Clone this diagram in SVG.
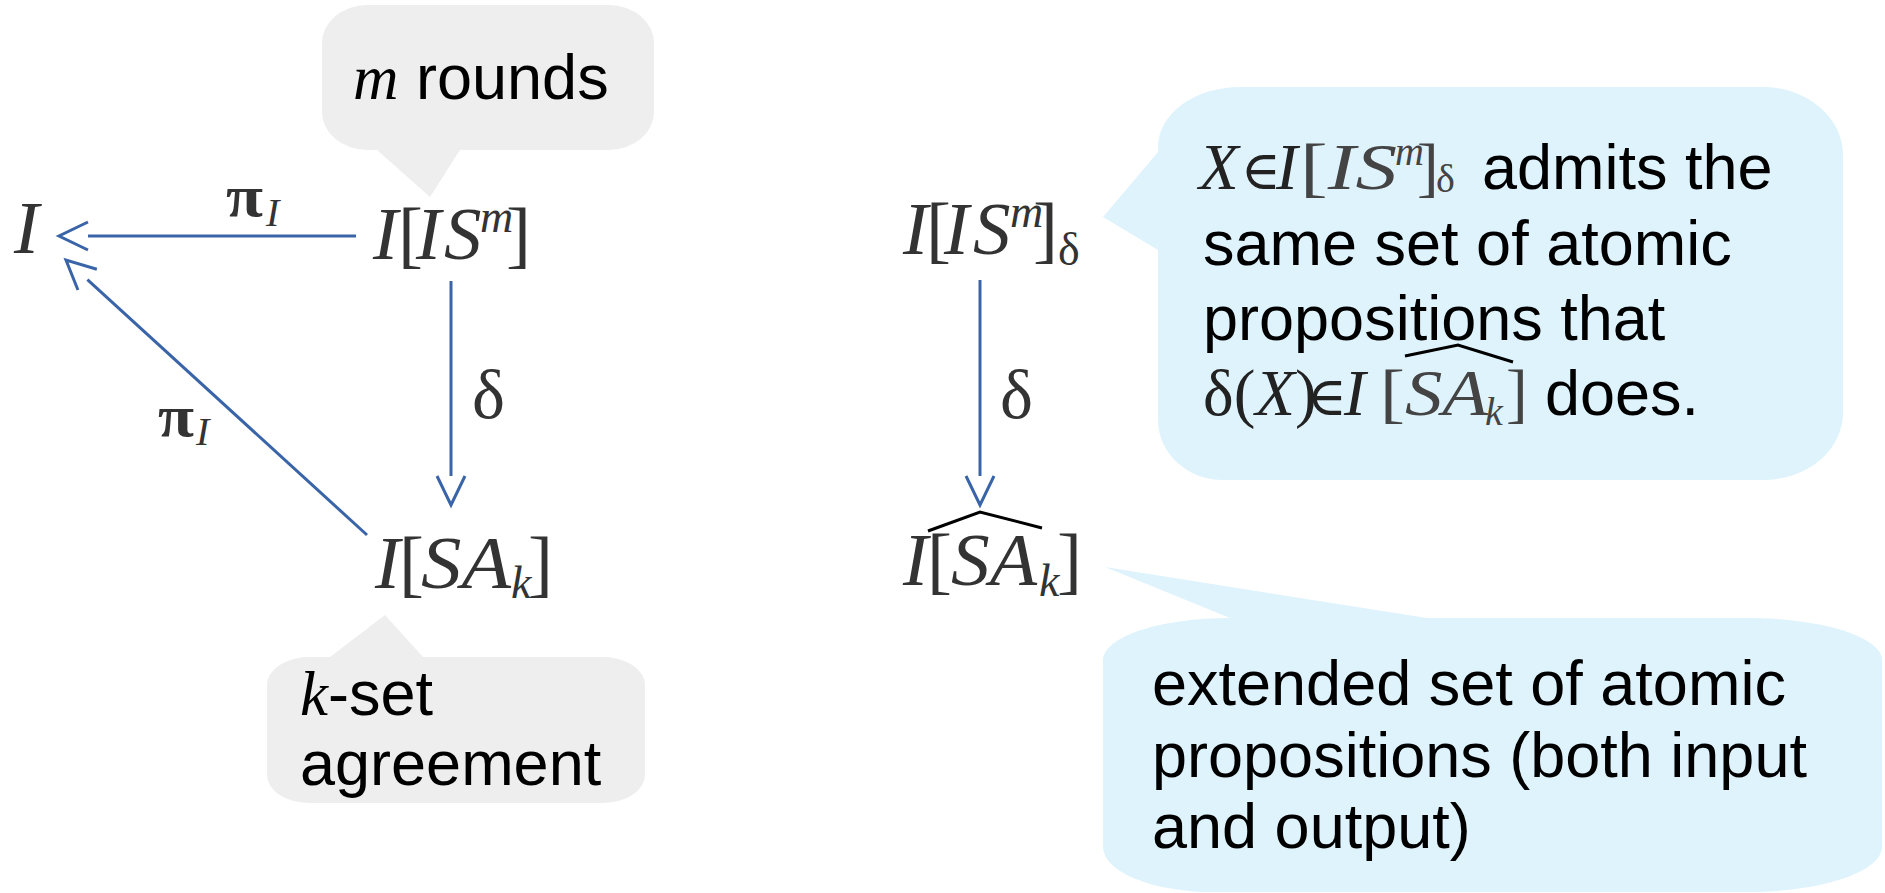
<svg xmlns="http://www.w3.org/2000/svg" width="1885" height="893" viewBox="0 0 1885 893">
<defs>
<style>
.sans{font-family:"Liberation Sans",Arial,sans-serif;font-size:63px;fill:#000}
.math{font-family:"Liberation Serif","DejaVu Serif",serif;fill:#333}
.elem{font-family:"DejaVu Serif",serif;font-style:normal;font-weight:normal}
.it{font-style:italic}
.node{font-size:75px}
.lbl{font-size:70px}
.pi{font-size:60px;font-weight:bold}
.sub{font-size:40px;font-style:italic}
.conn{stroke:#3A64A8;stroke-width:3;fill:none}
.hat{stroke:#000;stroke-width:3;fill:none}
.gray{fill:#EEEEEE}
.blue{fill:#DFF3FC}
</style>
<marker id="open" markerUnits="userSpaceOnUse" markerWidth="1" markerHeight="1" overflow="visible" orient="auto" refX="0" refY="0">
<path d="M0,-14 L29,0 L0,14" fill="none" stroke="#3A64A8" stroke-width="3"/>
</marker>
</defs>
<rect width="1885" height="893" fill="#fff"/>

<g id="callout-rounds">
<path class="gray" d="M367,5 H609 A45,38 0 0 1 654,43 V112 A45,38 0 0 1 609,150 H460 L430,197 L377,150 H367 A45,38 0 0 1 322,112 V43 A45,38 0 0 1 367,5 Z"/>
<text class="sans" x="353" y="99"><tspan class="math it" style="fill:#000">m</tspan> rounds</text>
</g>

<g id="callout-kset">
<path class="gray" d="M309,657 H330 L385,615 L423,657 H603 A42,28 0 0 1 645,685 V775 A42,28 0 0 1 603,803 H309 A42,28 0 0 1 267,775 V685 A42,28 0 0 1 309,657 Z"/>
<text class="sans" x="300" y="715"><tspan class="math it" style="fill:#000">k</tspan>-set</text>
<text class="sans" x="300" y="785">agreement</text>
</g>

<g id="callout-admits">
<path class="blue" d="M1240,87 H1763 A80,68 0 0 1 1843,155 V413 A80,67 0 0 1 1763,480 H1223 A65,60 0 0 1 1158,420 V250 L1103,217 L1158,152 V147 A82,60 0 0 1 1240,87 Z"/>
<g class="math" style="font-size:65px;fill:#222">
<text class="it" x="1199" y="189">X</text>
<text class="elem" x="1241" y="189" style="font-size:54px">∈</text>
<text class="it" x="1276" y="189">I</text>
<text x="1300" y="189" textLength="97" lengthAdjust="spacingAndGlyphs" style="fill:#444">[<tspan class="it">IS</tspan></text>
<text class="it" x="1395" y="165" style="font-size:40px;fill:#444">m</text>
<text x="1417" y="189" style="fill:#444">]</text>
<text x="1436" y="192" style="font-size:40px;fill:#444">δ</text>
</g>
<text class="sans" x="1482" y="189">admits the</text>
<text class="sans" x="1203" y="265">same set of atomic</text>
<text class="sans" x="1203" y="340">propositions that</text>
<g class="math" style="font-size:65px;fill:#222">
<text x="1203" y="415">δ(<tspan class="it">X</tspan>)</text>
<text class="elem" x="1307" y="415" style="font-size:54px">∈</text>
<text class="it" x="1344" y="415">I</text>
<text x="1380" y="415" textLength="108" lengthAdjust="spacingAndGlyphs" style="fill:#444">[<tspan class="it">SA</tspan></text>
<text class="it" x="1485" y="425" style="font-size:40px;fill:#444">k</text>
<text x="1506" y="415" style="fill:#444">]</text>
</g>
<polyline class="hat" points="1405,356 1458,345 1513,362"/>
<text class="sans" x="1545" y="415">does.</text>
</g>

<g id="callout-extended">
<path class="blue" d="M1230,618 H1427 L1105,567 L1230,618 Z"/>
<path class="blue" d="M1230,618 H1747 A135,42 0 0 1 1882,660 V847 A135,45 0 0 1 1747,892 H1213 A110,45 0 0 1 1103,847 V660 A127,42 0 0 1 1230,618 Z"/>
<text class="sans" x="1152" y="705">extended set of atomic</text>
<text class="sans" x="1152" y="777">propositions (both input</text>
<text class="sans" x="1152" y="848">and output)</text>
</g>

<g id="node-I">
<text class="math it node" x="14" y="253">I</text>
</g>

<g id="node-ISm">
<text class="math node" y="259"><tspan class="it" x="373">I</tspan><tspan x="398">[</tspan><tspan class="it" x="416">I</tspan><tspan class="it" x="444">S</tspan><tspan class="it" x="480" y="232" style="font-size:46px">m</tspan><tspan x="506" y="259">]</tspan></text>
</g>

<g id="node-SAk">
<g class="math node">
<text class="it" x="375" y="588">I</text>
<text x="399" y="588">[</text>
<text class="it" x="421" y="588" textLength="90" lengthAdjust="spacingAndGlyphs">SA</text>
<text class="it" x="511" y="598" style="font-size:46px">k</text>
<text x="528" y="588">]</text>
</g>
</g>

<g id="node-ISm-delta">
<text class="math node" y="254"><tspan class="it" x="903">I</tspan><tspan x="926">[</tspan><tspan class="it" x="944">I</tspan><tspan class="it" x="973">S</tspan><tspan class="it" x="1010" y="227" style="font-size:46px">m</tspan><tspan x="1033" y="254">]</tspan><tspan x="1058" y="265" style="font-size:46px">δ</tspan></text>
</g>

<g id="node-SAk-hat">
<g class="math node">
<text class="it" x="903" y="585">I</text>
<text x="927" y="585">[</text>
<text class="it" x="951" y="585" textLength="86" lengthAdjust="spacingAndGlyphs">SA</text>
<text class="it" x="1039" y="596" style="font-size:46px">k</text>
<text x="1057" y="585">]</text>
</g>
<polyline class="hat" points="928,531 980,512 1042,528"/>
</g>

<g id="connectors">
<line class="conn" x1="356" y1="236" x2="88" y2="236" marker-end="url(#open)"/>
<line class="conn" x1="367" y1="535" x2="87.4" y2="279.6" marker-end="url(#open)"/>
<line class="conn" x1="451" y1="281" x2="451" y2="476" marker-end="url(#open)"/>
<line class="conn" x1="980" y1="280" x2="980" y2="476" marker-end="url(#open)"/>
<text class="math pi" x="226" y="216" textLength="37" lengthAdjust="spacingAndGlyphs">π</text>
<text class="math sub" x="266" y="226">I</text>
<text class="math pi" x="158" y="436" textLength="36" lengthAdjust="spacingAndGlyphs">π</text>
<text class="math sub" x="196" y="445">I</text>
<text class="math lbl" x="472" y="418">δ</text>
<text class="math lbl" x="1000" y="418">δ</text>
</g>
</svg>
